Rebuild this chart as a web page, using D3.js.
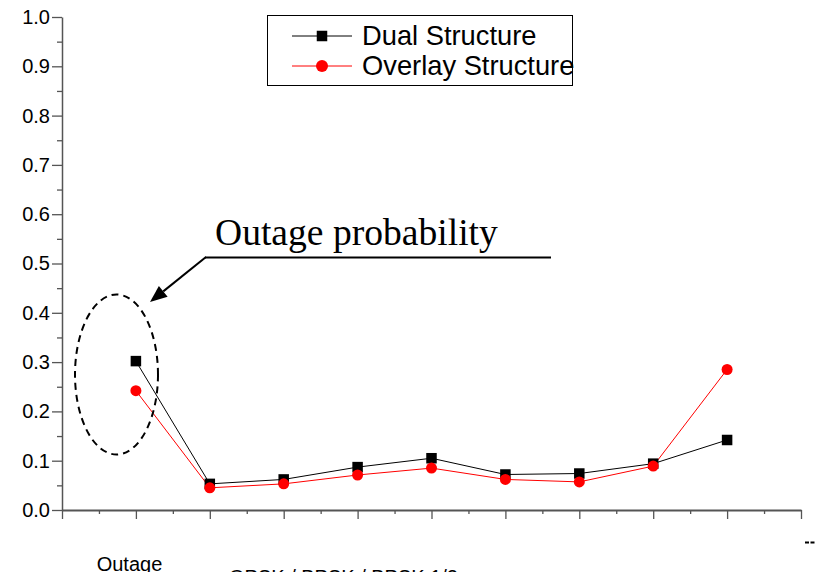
<!DOCTYPE html>
<html>
<head>
<meta charset="utf-8">
<script src="https://cdn.jsdelivr.net/npm/d3@7"></script>
<style>
  html, body { margin: 0; padding: 0; background: #fff; }
  svg { display: block; }
</style>
</head>
<body>
<svg id="chart" width="816" height="572"></svg>
<script>
// Scheme positions along the x axis
const positions = [1, 2, 3, 4, 5, 6, 7, 8, 9];
// Outage probability per scheme
const dualValues    = [0.302, 0.053, 0.062, 0.087, 0.105, 0.072, 0.074, 0.094, 0.142];
const overlayValues = [0.242, 0.045, 0.053, 0.071, 0.085, 0.062, 0.057, 0.089, 0.285];
const seriesNames = ["Dual Structure", "Overlay Structure"];
const yTicks = [0, 0.1, 0.2, 0.3, 0.4, 0.5, 0.6, 0.7, 0.8, 0.9, 1.0];
const xTicks = [0, 1, 2, 3, 4, 5, 6, 7, 8, 9, 10];
const categoryLabels = ["Outage", "QPSK / BPSK / BPSK 1/2"];

const svg = d3.select("#chart");
const sans = "'Liberation Sans', Arial, sans-serif";
const serif = "'Liberation Serif', 'Times New Roman', serif";
const axisColor = "#555";

const x = d3.scaleLinear().domain([0, 10]).range([62, 801]);
const y = d3.scaleLinear().domain([0, 1]).range([510, 17]);

// Minor ticks
const xMinor = d3.range(0.5, 10, 1);
const yMinor = d3.range(0.05, 1, 0.1);

const gx = svg.append("g").attr("transform", `translate(0,${y(0)})`);
gx.append("g").call(d3.axisBottom(x).tickValues(xMinor).tickSize(4).tickSizeOuter(0).tickFormat(""))
  .call(g => g.select(".domain").remove());
gx.append("g").call(d3.axisBottom(x).tickValues(xTicks).tickSize(9).tickSizeOuter(0).tickFormat(""));
gx.selectAll("line").attr("stroke", axisColor).attr("stroke-width", 1.3);
gx.selectAll(".domain").attr("stroke", axisColor).attr("stroke-width", 2);

const gy = svg.append("g").attr("transform", `translate(${x(0)},0)`);
gy.append("g").call(d3.axisLeft(y).tickValues(yMinor).tickSize(5).tickSizeOuter(0).tickFormat(""))
  .call(g => g.select(".domain").remove());
gy.append("g").call(d3.axisLeft(y).tickValues(yTicks).tickSize(10).tickPadding(2).tickSizeOuter(0).tickFormat(d3.format(".1f")));
gy.selectAll("line").attr("stroke", axisColor).attr("stroke-width", 1.3);
gy.selectAll(".domain").attr("stroke", axisColor).attr("stroke-width", 1.5);
gy.selectAll("text").attr("font-family", sans).attr("font-size", 20).attr("fill", "#000");

// Series lines and markers
const line = d3.line().x((d, i) => x(positions[i])).y(d => y(d));

svg.append("path").datum(dualValues).attr("d", line)
  .attr("fill", "none").attr("stroke", "#000").attr("stroke-width", 1);
svg.append("path").datum(overlayValues).attr("d", line)
  .attr("fill", "none").attr("stroke", "#ff0000").attr("stroke-width", 1);

const sq = 10.5;
svg.append("g").selectAll("rect").data(dualValues).join("rect")
  .attr("x", (d, i) => x(positions[i]) - sq / 2)
  .attr("y", d => y(d) - sq / 2)
  .attr("width", sq).attr("height", sq).attr("fill", "#000");
svg.append("g").selectAll("circle").data(overlayValues).join("circle")
  .attr("cx", (d, i) => x(positions[i]))
  .attr("cy", d => y(d))
  .attr("r", 5.5).attr("fill", "#ff0000");

// Legend
const lg = svg.append("g");
lg.append("rect").attr("x", 267.5).attr("y", 15.5).attr("width", 305).attr("height", 70)
  .attr("fill", "#fff").attr("stroke", "#000").attr("stroke-width", 1);
const rows = [
  { name: seriesNames[0], color: "#000", ly: 36, ty: 45, shape: "square" },
  { name: seriesNames[1], color: "#ff0000", ly: 66, ty: 75, shape: "circle" }
];
rows.forEach(r => {
  lg.append("line").attr("x1", 292).attr("x2", 352).attr("y1", r.ly).attr("y2", r.ly)
    .attr("stroke", r.color).attr("stroke-width", 1);
  if (r.shape === "square") {
    lg.append("rect").attr("x", 322 - sq / 2).attr("y", r.ly - sq / 2)
      .attr("width", sq).attr("height", sq).attr("fill", r.color);
  } else {
    lg.append("circle").attr("cx", 322).attr("cy", r.ly).attr("r", 6).attr("fill", r.color);
  }
  lg.append("text").attr("x", 362).attr("y", r.ty).text(r.name)
    .attr("font-family", sans).attr("font-size", 27.3).attr("fill", "#000");
});

// Annotation: dashed ellipse around the first scheme, arrow and caption
svg.append("ellipse").attr("cx", 116.5).attr("cy", 374.5).attr("rx", 41.5).attr("ry", 80)
  .attr("fill", "none").attr("stroke", "#000").attr("stroke-width", 2)
  .attr("stroke-dasharray", "7,5");

// Arrow from the caption's underline toward the ellipse
const ax0 = 206, ay0 = 257, ax1 = 150, ay1 = 302;
const ang = Math.atan2(ay1 - ay0, ax1 - ax0);
const hl = 17, hw = 7;
const bx = ax1 - hl * Math.cos(ang), by = ay1 - hl * Math.sin(ang);
svg.append("line").attr("x1", ax0).attr("y1", ay0).attr("x2", bx).attr("y2", by)
  .attr("stroke", "#000").attr("stroke-width", 2);
svg.append("path")
  .attr("d", `M${ax1},${ay1} L${bx + hw * Math.sin(ang)},${by - hw * Math.cos(ang)} L${bx - hw * Math.sin(ang)},${by + hw * Math.cos(ang)} Z`)
  .attr("fill", "#000");
svg.append("line").attr("x1", 205).attr("x2", 551).attr("y1", 257.5).attr("y2", 257.5)
  .attr("stroke", "#000").attr("stroke-width", 2);
svg.append("text").attr("x", 215).attr("y", 245).text("Outage probability")
  .attr("font-family", serif).attr("font-size", 37.6).attr("fill", "#000");

// Category captions below the axis
svg.append("text").attr("x", 129.5).attr("y", 571).attr("text-anchor", "middle")
  .text(categoryLabels[0]).attr("font-family", sans).attr("font-size", 20).attr("fill", "#000");
svg.append("text").attr("x", 229).attr("y", 584)
  .text(categoryLabels[1]).attr("font-family", sans).attr("font-size", 20).attr("fill", "#000");

// Axis title fragment at the right edge
svg.append("line").attr("x1", 805).attr("x2", 816).attr("y1", 542.5).attr("y2", 542.5)
  .attr("stroke", "#000").attr("stroke-width", 2).attr("stroke-dasharray", "4,1.5");
</script>
</body>
</html>
